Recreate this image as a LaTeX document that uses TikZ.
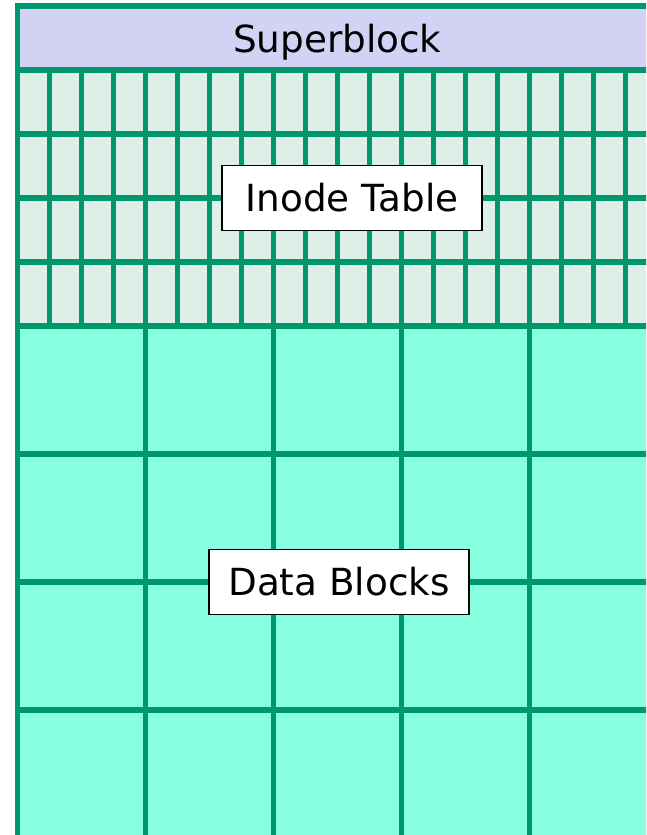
\documentclass[tikz,border=0pt]{standalone}
\usepackage{fontspec}
\usepackage{tikz}
\usetikzlibrary{positioning}
\newfontfamily\labelfont{DejaVu Sans}
\definecolor{gridline}{HTML}{00966E}
\definecolor{superfill}{HTML}{D2D2F4}
\definecolor{inodefill}{HTML}{DCF0E8}
\definecolor{datafill}{HTML}{88FFDE}

\begin{document}
\begin{tikzpicture}[
  x=0.75pt, y=0.75pt,
  cellline/.style={gridline, line width=4pt},
  labeltext/.style={font=\labelfont\fontsize{28}{33}\selectfont},
  labelbox/.style={labeltext, draw=black, line width=1pt, fill=white,
                   minimum width=195pt, minimum height=48.5pt, inner sep=0pt},
]
  \useasboundingbox (-17.3,6) rectangle (628.7,-829);
  \clip (-17.3,6) rectangle (628.7,-829);

  % regions
  \fill[superfill] (0,0) rectangle (640,-64);
  \fill[inodefill] (0,-64) rectangle (640,-320);
  \fill[datafill] (0,-320) rectangle (640,-832);

  % inode table grid
  \foreach \i in {1,...,19}
    \draw[cellline] (32*\i,-64) -- (32*\i,-320);
  \foreach \j in {2,3,4}
    \draw[cellline] (0,-64*\j) -- (640,-64*\j);

  % data block grid
  \foreach \i in {1,...,4}
    \draw[cellline] (128*\i,-320) -- (128*\i,-832);
  \foreach \j in {1,2,3}
    \draw[cellline] (0,-320-128*\j) -- (640,-320-128*\j);

  \draw[cellline] (0,-64) -- (640,-64);
  \draw[cellline] (0,-320) -- (640,-320);
  \draw[cellline] (0,0) rectangle (640,-832);

  % labels
  \node[labeltext, anchor=base] (superblock) at (320,-46.3) {Superblock};
  \node[labelbox] (inodes) at (334.7,-192) {Inode Table};
  \node[labelbox] (datablocks) at (321.7,-576) {Data Blocks};
\end{tikzpicture}
\end{document}
